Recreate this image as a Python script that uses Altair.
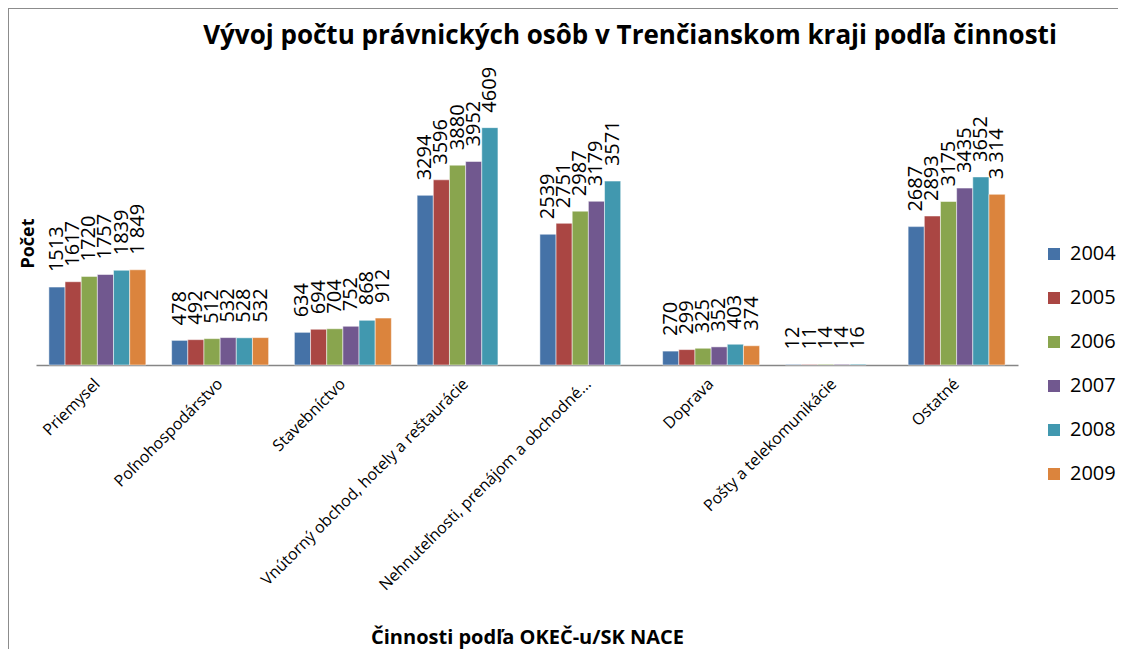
import altair as alt
import pandas as pd

categories = [
    "Priemysel",
    "Poľnohospodárstvo",
    "Stavebníctvo",
    "Vnútorný obchod, hotely a reštaurácie",
    "Nehnuteľnosti, prenájom a obchodné...",
    "Doprava",
    "Pošty a telekomunikácie",
    "Ostatné",
]
years = ["2004", "2005", "2006", "2007", "2008", "2009"]

v2004 = [1513, 478, 634, 3294, 2539, 270, 12, 2687]
v2005 = [1617, 492, 694, 3596, 2751, 299, 11, 2893]
v2006 = [1720, 512, 704, 3880, 2987, 325, 14, 3175]
v2007 = [1757, 532, 752, 3952, 3179, 352, 14, 3435]
v2008 = [1839, 528, 868, 4609, 3571, 403, 16, 3652]
v2009 = [1849, 532, 912, None, None, 374, None, 3314]

t2009 = ["1 849", "532", "912", None, None, "374", None, "3 314"]

colors = ["#4572A7", "#AA4643", "#89A54E", "#71588F", "#4198AF", "#DB843D"]

series = [v2004, v2005, v2006, v2007, v2008, v2009]
rows = []
for yi, (yr, vals) in enumerate(zip(years, series)):
    for ci, cat in enumerate(categories):
        v = vals[ci]
        if v is None:
            continue
        if yr == "2009":
            txt = t2009[ci]
        else:
            txt = str(v)
        rows.append({"cat": cat, "year": yr, "value": v, "label": txt})
df = pd.DataFrame(rows)

FONT = "Open Sans"

x_enc = alt.X(
    "cat:N",
    sort=categories,
    scale=alt.Scale(paddingInner=0.21, paddingOuter=0.105),
    axis=alt.Axis(
        title="Činnosti podľa OKEČ-u/SK NACE",
        titleFont=FONT,
        titleFontSize=20,
        titleFontWeight="bold",
        titleColor="#000000",
        titleBaseline="middle",
        titleY=272,
        labelAngle=-45,
        labelAlign="right",
        labelBaseline="middle",
        labelFont=FONT,
        labelFontSize=16,
        labelColor="#000000",
        labelPadding=16,
        labelLimit=400,
        ticks=False,
        domainColor="#868686",
        domainWidth=1.5,
        grid=False,
    ),
)
y_enc = alt.Y(
    "value:Q",
    scale=alt.Scale(domain=[0, 6000], nice=False),
    axis=alt.Axis(
        title="Počet",
        titleFont=FONT,
        titleFontSize=18,
        titleFontWeight="bold",
        titleColor="#000000",
        titleAngle=270,
        titleAlign="center",
        titleBaseline="middle",
        titleX=-8,
        titleY=187,
        labels=False,
        ticks=False,
        domain=False,
        grid=False,
    ),
)
xoff = alt.XOffset("year:N", sort=years, scale=alt.Scale(domain=years, paddingInner=0, paddingOuter=0))

bars = alt.Chart(df).mark_bar(stroke="white", strokeWidth=0.5).encode(
    x=x_enc,
    y=y_enc,
    xOffset=xoff,
    color=alt.Color(
        "year:N",
        sort=years,
        scale=alt.Scale(domain=years, range=colors),
        legend=alt.Legend(
            title=None,
            orient="none",
            legendX=1008,
            legendY=188,
            direction="vertical",
            symbolType="square",
            symbolSize=144,
            symbolStrokeWidth=0,
            labelFont=FONT,
            labelFontSize=20,
            labelColor="#000000",
            labelOffset=6,
            rowPadding=24,
            padding=0,
        ),
    ),
)

labels = alt.Chart(df).mark_text(
    angle=270, align="left", baseline="middle", dx=15, font=FONT, fontSize=20, color="#000000"
).encode(
    x=alt.X("cat:N", sort=categories),
    y="value:Q",
    xOffset=alt.XOffset("year:N", sort=years),
    text="label:N",
)

one = pd.DataFrame({"k": [0]})
frame_left = alt.Chart(one).mark_rule(color="#8c8c8c", strokeWidth=2, clip=False).encode(
    x=alt.value(-28), x2=alt.value(-28), y=alt.value(-48), y2=alt.value(600)
)
frame_top = alt.Chart(one).mark_rule(color="#8c8c8c", strokeWidth=2, clip=False).encode(
    x=alt.value(-28), x2=alt.value(1090), y=alt.value(-48), y2=alt.value(-48)
)

chart = (
    alt.layer(bars, labels, frame_left, frame_top)
    .properties(
        width=982,
        height=309,
        background="white",
        autosize=alt.AutoSizeParams(type="none"),
        padding={"left": 28, "top": 48, "right": 100, "bottom": 284},
        title=alt.Title(
            "Vývoj počtu právnických osôb v Trenčianskom kraji podľa činnosti",
            font=FONT,
            fontSize=26,
            fontWeight="bold",
            color="#000000",
            anchor="middle",
            frame="group",
            baseline="middle",
            dx=103,
            offset=-55,
        ),
    )
    .configure_view(stroke=None, strokeWidth=0)
)

chart.save("out.html", embed_options={"renderer": "svg", "actions": False})
